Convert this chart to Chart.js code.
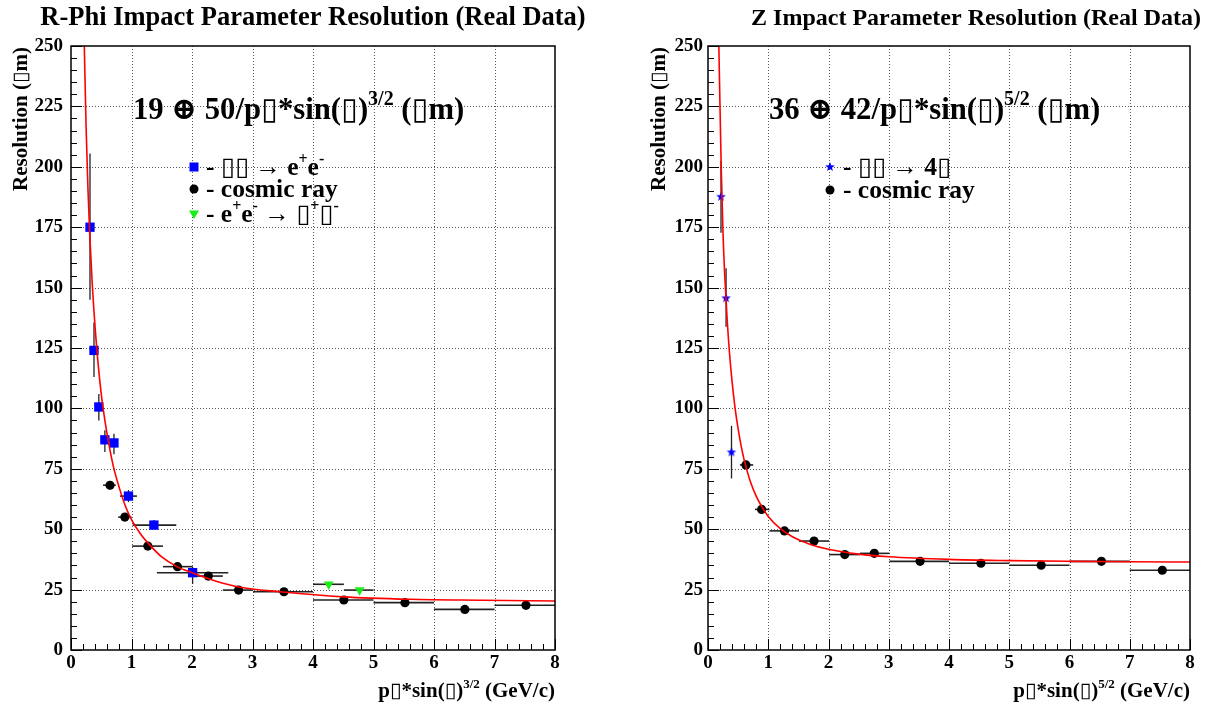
<!DOCTYPE html>
<html>
<head>
<meta charset="utf-8">
<script src="https://cdn.jsdelivr.net/npm/chart.js@4.4.0/dist/chart.umd.min.js"></script>
<style>
    html, body { margin: 0; padding: 0; background: #fff; }
    #wrap { position: relative; width: 1207px; height: 707px; overflow: hidden; }
    canvas { position: absolute; top: 0; }
    #cLeft { left: 0; }
    #cRight { left: 604px; }
</style>
</head>
<body>
<div id="wrap">
    <canvas id="cLeft" width="604" height="707"></canvas>
    <canvas id="cRight" width="603" height="707"></canvas>
</div>
<script>
(function () {
    'use strict';

    // --- axes (shared) ---
    const xTicks = [0, 1, 2, 3, 4, 5, 6, 7, 8];
    const yTicks = [0, 25, 50, 75, 100, 125, 150, 175, 200, 225, 250];

    // --- R-Phi plot ---
    // gamma gamma -> e+e-
    const eeX    = [0.314, 0.38, 0.46, 0.56, 0.71, 0.95, 1.37, 2.01];
    const eeY    = [175, 124, 100.6, 87, 85.7, 63.7, 51.7, 32];
    const eeXLo  = [0.30, 0.36, 0.44, 0.52, 0.67, 0.81, 1.02, 1.42];
    const eeXHi  = [0.33, 0.40, 0.48, 0.60, 0.75, 1.09, 1.74, 2.60];
    const eeYLo  = [145, 113, 95, 82, 81, 61.2, 50.5, 27.3];
    const eeYHi  = [205.5, 135.6, 106, 91, 89.5, 66.2, 53.8, 34.4];
    // cosmic ray
    const crX    = [0.645, 0.89, 1.27, 1.76, 2.27, 2.77, 3.52, 4.51, 5.52, 6.51, 7.52];
    const crY    = [68.2, 55, 43, 34.5, 30.6, 24.8, 24.1, 20.7, 19.6, 16.8, 18.5];
    const crXLo  = [0.53, 0.78, 1.01, 1.52, 2.01, 2.51, 3.01, 4, 5, 6, 7];
    const crXHi  = [0.74, 1.0, 1.52, 2.01, 2.51, 3.01, 4.0, 5, 6, 7, 8];
    const crYErr = [1.8, 1.5, 1, 1, 1, 0.8, 0.5, 0.5, 0.5, 0.5, 0.5];
    // e+e- -> mu+mu-
    const mmX    = [4.26, 4.77];
    const mmY    = [27.2, 24.8];
    const mmXLo  = [4.0, 4.51];
    const mmXHi  = [4.51, 5.0];
    const mmYErr = [0.5, 0.5];
    // fit curve
    const fitRphiX = [0.22, 0.25, 0.28, 0.31, 0.35, 0.4, 0.45, 0.5, 0.56, 0.62, 0.7, 0.8, 0.9, 1.0, 1.15, 1.3, 1.5, 1.75, 2.0, 2.4, 2.8, 3.5, 4.5, 5.6, 6.8, 8.0];
    const fitRphiY = [250, 216, 191, 172, 152, 133, 118, 106, 95, 86, 76, 67, 59.5, 54, 48, 43.5, 38.5, 34.5, 32, 28.5, 26, 24, 22, 21, 20.6, 20.3];

    // --- Z plot ---
    // gamma gamma -> 4 mu
    const g4X    = [0.216, 0.30, 0.39];
    const g4Y    = [187.6, 145.6, 81.8];
    const g4XLo  = [0.19, 0.275, 0.37];
    const g4XHi  = [0.24, 0.325, 0.41];
    const g4YLo  = [172.7, 133.8, 71];
    const g4YHi  = [202.5, 158, 92.8];
    // cosmic ray
    const czX    = [0.63, 0.89, 1.27, 1.76, 2.27, 2.76, 3.52, 4.53, 5.53, 6.53, 7.54];
    const czY    = [76.6, 58.2, 49.3, 45.1, 39.5, 40, 36.7, 35.9, 35.1, 36.7, 33];
    const czXLo  = [0.53, 0.78, 1.02, 1.51, 2.01, 2.52, 3.01, 4, 5, 6, 7];
    const czXHi  = [0.75, 1.02, 1.51, 2.01, 2.52, 3.01, 4.0, 5, 6, 7, 8];
    const czYErr = [1.5, 1.2, 1, 1, 0.8, 0.8, 0.6, 0.6, 0.6, 0.6, 0.6];
    // fit curve
    const fitZX = [0.18, 0.2, 0.22, 0.25, 0.28, 0.32, 0.36, 0.4, 0.45, 0.5, 0.55, 0.6, 0.7, 0.8, 0.9, 1.0, 1.2, 1.4, 1.7, 2.0, 2.5, 3.0, 4.0, 5.0, 6.0, 7.0, 8.0];
    const fitZY = [250, 224, 199, 172, 154, 136, 122, 111, 100, 91.5, 84.5, 78.7, 70, 63.7, 59, 55.3, 50.2, 46.9, 43.7, 41.7, 39.7, 38.6, 37.5, 37, 36.7, 36.5, 36.4];

    const BOX = '\u25AF';
    const FAM = '"Liberation Serif", "DejaVu Serif", serif';

    function pts(xs, ys) {
        return xs.map((v, i) => ({ x: v, y: ys[i] }));
    }
    function errs(xlo, xhi, ylo, yhi) {
        return xlo.map((v, i) => ({ xlo: v, xhi: xhi[i], ylo: ylo[i], yhi: yhi[i] }));
    }
    function symErr(ys, e) {
        return [ys.map((v, i) => v - e[i]), ys.map((v, i) => v + e[i])];
    }

    function starImage(r, color) {
        const c = document.createElement('canvas');
        c.width = c.height = 2 * r + 2;
        const g = c.getContext('2d');
        g.fillStyle = color;
        g.beginPath();
        for (let i = 0; i < 10; i++) {
            const a = -Math.PI / 2 + i * Math.PI / 5;
            const rr = (i % 2 === 0) ? r : r * 0.42;
            const px = r + 1 + rr * Math.cos(a), py = r + 1 + rr * Math.sin(a);
            if (i === 0) g.moveTo(px, py); else g.lineTo(px, py);
        }
        g.closePath();
        g.fill();
        return c;
    }
    const STAR = starImage(5, '#0000ff');

    // draws text with superscripts: parts = [[text, isSup], ...]
    function rich(ctx, parts, x, y, size, align) {
        const main = `bold ${size}px ${FAM}`;
        const small = `bold ${Math.round(size * 0.64)}px ${FAM}`;
        let w = 0;
        parts.forEach(([t, s]) => { ctx.font = s ? small : main; w += ctx.measureText(t).width; });
        let cx = align === 'right' ? x - w : (align === 'center' ? x - w / 2 : x);
        ctx.textAlign = 'left';
        ctx.textBaseline = 'alphabetic';
        ctx.fillStyle = '#000';
        parts.forEach(([t, s]) => {
            ctx.font = s ? small : main;
            ctx.fillText(t, cx, s ? y - size * 0.45 : y);
            cx += ctx.measureText(t).width;
        });
    }

    function marker(ctx, kind, x, y) {
        ctx.save();
        if (kind === 'rect') {
            ctx.fillStyle = '#0000ff';
            ctx.fillRect(x - 4.5, y - 4.5, 9, 9);
        } else if (kind === 'circle') {
            ctx.fillStyle = '#000';
            ctx.beginPath(); ctx.arc(x, y, 4.5, 0, Math.PI * 2); ctx.fill();
        } else if (kind === 'tri') {
            ctx.fillStyle = '#1aee1a';
            ctx.beginPath(); ctx.moveTo(x - 5, y - 3.5); ctx.lineTo(x + 5, y - 3.5); ctx.lineTo(x, y + 5); ctx.closePath(); ctx.fill();
        } else if (kind === 'star') {
            ctx.drawImage(STAR, x - STAR.width / 2, y - STAR.height / 2);
        }
        ctx.restore();
    }

    function decor(p) {
        return {
            id: 'decor',
            beforeDatasetsDraw(chart) {
                const { ctx, chartArea: a, scales: { x, y } } = chart;
                ctx.save();
                // dotted grid
                ctx.strokeStyle = '#555';
                ctx.lineWidth = 1;
                ctx.setLineDash([1, 2]);
                ctx.beginPath();
                xTicks.slice(1, -1).forEach(v => {
                    const px = Math.round(x.getPixelForValue(v)) + 0.5;
                    ctx.moveTo(px, a.top); ctx.lineTo(px, a.bottom);
                });
                yTicks.slice(1, -1).forEach(v => {
                    const py = Math.round(y.getPixelForValue(v)) + 0.5;
                    ctx.moveTo(a.left, py); ctx.lineTo(a.right, py);
                });
                ctx.stroke();
                ctx.setLineDash([]);
                // error bars
                chart.data.datasets.forEach(ds => {
                    if (!ds.errs) return;
                    ds.data.forEach((d, i) => {
                        const e = ds.errs[i];
                        const cx = x.getPixelForValue(d.x), cy = y.getPixelForValue(d.y);
                        ctx.strokeStyle = '#222';
                        ctx.lineWidth = 1.6;
                        ctx.beginPath();
                        ctx.moveTo(x.getPixelForValue(e.xlo), cy);
                        ctx.lineTo(x.getPixelForValue(e.xhi), cy);
                        ctx.stroke();
                        ctx.lineWidth = 1.3;
                        ctx.beginPath();
                        ctx.moveTo(cx, y.getPixelForValue(e.ylo));
                        ctx.lineTo(cx, y.getPixelForValue(e.yhi));
                        ctx.stroke();
                    });
                });
                ctx.restore();
            },
            afterDraw(chart) {
                const { ctx, chartArea: a, scales: { x, y } } = chart;
                ctx.save();
                // tick marks inside the frame
                ctx.strokeStyle = '#000';
                ctx.lineWidth = 1;
                ctx.beginPath();
                for (let v = 0; v <= 8.0001; v += 0.2) {
                    const px = Math.round(x.getPixelForValue(v)) + 0.5;
                    const major = Math.abs(v - Math.round(v)) < 1e-6;
                    ctx.moveTo(px, a.bottom); ctx.lineTo(px, a.bottom - (major ? 11 : 6));
                }
                for (let v = 0; v <= 250; v += 5) {
                    const py = Math.round(y.getPixelForValue(v)) + 0.5;
                    const major = v % 25 === 0;
                    ctx.moveTo(a.left, py); ctx.lineTo(a.left + (major ? 11 : 6), py);
                }
                ctx.stroke();
                // frame
                ctx.lineWidth = 1.5;
                ctx.strokeRect(a.left, a.top, a.right - a.left, a.bottom - a.top);

                // titles and labels
                rich(ctx, [[p.title]], p.titleX, 25, p.titleSize, 'center');
                rich(ctx, p.formula, p.formulaX, 119, 30.7, 'left');
                p.legend.forEach(row => {
                    marker(ctx, row.kind, p.legMarkX, row.y);
                    rich(ctx, row.parts, p.legTextX, row.y + 8, 25.5, 'left');
                });
                rich(ctx, p.xTitle, a.right, 697, 21, 'right');
                ctx.save();
                ctx.translate(p.yTitleX, a.top + 1);
                ctx.rotate(-Math.PI / 2);
                rich(ctx, [['Resolution (' + BOX + 'm)']], 0, 0, 21, 'right');
                ctx.restore();
                ctx.restore();
            }
        };
    }

    const tickFont = { family: FAM, size: 19, weight: 'bold' };

    function buildChart(id, p) {
        return new Chart(document.getElementById(id), {
            type: 'scatter',
            data: { datasets: p.datasets },
            options: {
                responsive: false,
                animation: false,
                events: [],
                layout: { padding: { left: 0, top: 46, right: p.padRight, bottom: 0 } },
                plugins: { legend: { display: false }, tooltip: { enabled: false } },
                scales: {
                    x: {
                        type: 'linear', min: 0, max: 8,
                        afterBuildTicks: s => { s.ticks = xTicks.map(v => ({ value: v })); },
                        ticks: { font: tickFont, color: '#000', padding: 2, maxRotation: 0, autoSkip: false },
                        grid: { display: false, drawTicks: false },
                        border: { display: false },
                        afterFit: s => { s.height = 57; }
                    },
                    y: {
                        type: 'linear', min: 0, max: 250,
                        afterBuildTicks: s => { s.ticks = yTicks.map(v => ({ value: v })); },
                        ticks: { font: tickFont, color: '#000', padding: p.yPad, autoSkip: false },
                        grid: { display: false, drawTicks: false },
                        border: { display: false },
                        afterFit: s => { s.width = p.yWidth; }
                    }
                }
            },
            plugins: [decor(p)]
        });
    }

    function fitSet(xs, ys) {
        return {
            type: 'line', data: pts(xs, ys), order: 0,
            borderColor: '#ff0000', borderWidth: 1.6, pointRadius: 0,
            cubicInterpolationMode: 'monotone', fill: false
        };
    }
    function markSet(xs, ys, er, style) {
        return Object.assign({ data: pts(xs, ys), errs: er, order: 1, showLine: false }, style);
    }

    const squareStyle = { pointStyle: 'rect', pointRadius: 6.6, backgroundColor: '#0000ff', borderColor: '#0000ff', borderWidth: 0 };
    const circleStyle = { pointStyle: 'circle', pointRadius: 4.6, backgroundColor: '#000', borderColor: '#000', borderWidth: 0 };
    const triStyle = { pointStyle: 'triangle', rotation: 180, pointRadius: 5.6, backgroundColor: '#1aee1a', borderColor: '#1aee1a', borderWidth: 0 };
    const starStyle = { pointStyle: STAR, pointRadius: 5 };

    const [crLo, crHi] = symErr(crY, crYErr);
    const [mmLo, mmHi] = symErr(mmY, mmYErr);
    const [czLo, czHi] = symErr(czY, czYErr);

    buildChart('cLeft', {
        padRight: 49, yWidth: 71, yPad: 8,
        title: 'R-Phi Impact Parameter Resolution (Real Data)', titleX: 313, titleSize: 26.5,
        formula: [['19 \u2295 50/p' + BOX + '*sin(' + BOX + ')'], ['3/2', true], [' (' + BOX + 'm)']],
        formulaX: 133,
        legMarkX: 194, legTextX: 206,
        legend: [
            { kind: 'rect', y: 167, parts: [['- ' + BOX + BOX + ' \u2192 e'], ['+', true], ['e'], ['-', true]] },
            { kind: 'circle', y: 189, parts: [['- cosmic ray']] },
            { kind: 'tri', y: 214, parts: [['- e'], ['+', true], ['e'], ['-', true], [' \u2192 ' + BOX], ['+', true], [BOX], ['-', true]] }
        ],
        xTitle: [['p' + BOX + '*sin(' + BOX + ')'], ['3/2', true], [' (GeV/c)']],
        yTitleX: 27,
        datasets: [
            fitSet(fitRphiX, fitRphiY),
            markSet(eeX, eeY, errs(eeXLo, eeXHi, eeYLo, eeYHi), squareStyle),
            markSet(crX, crY, errs(crXLo, crXHi, crLo, crHi), circleStyle),
            markSet(mmX, mmY, errs(mmXLo, mmXHi, mmLo, mmHi), triStyle)
        ]
    });

    buildChart('cRight', {
        padRight: 17, yWidth: 104, yPad: 5,
        title: 'Z Impact Parameter Resolution (Real Data)', titleX: 372, titleSize: 24,
        formula: [['36 \u2295 42/p' + BOX + '*sin(' + BOX + ')'], ['5/2', true], [' (' + BOX + 'm)']],
        formulaX: 165,
        legMarkX: 226, legTextX: 239,
        legend: [
            { kind: 'star', y: 167, parts: [['- ' + BOX + BOX + ' \u2192 4' + BOX]] },
            { kind: 'circle', y: 190, parts: [['- cosmic ray']] }
        ],
        xTitle: [['p' + BOX + '*sin(' + BOX + ')'], ['5/2', true], [' (GeV/c)']],
        yTitleX: 61,
        datasets: [
            fitSet(fitZX, fitZY),
            markSet(g4X, g4Y, errs(g4XLo, g4XHi, g4YLo, g4YHi), starStyle),
            markSet(czX, czY, errs(czXLo, czXHi, czLo, czHi), circleStyle)
        ]
    });
})();
</script>
</body>
</html>
